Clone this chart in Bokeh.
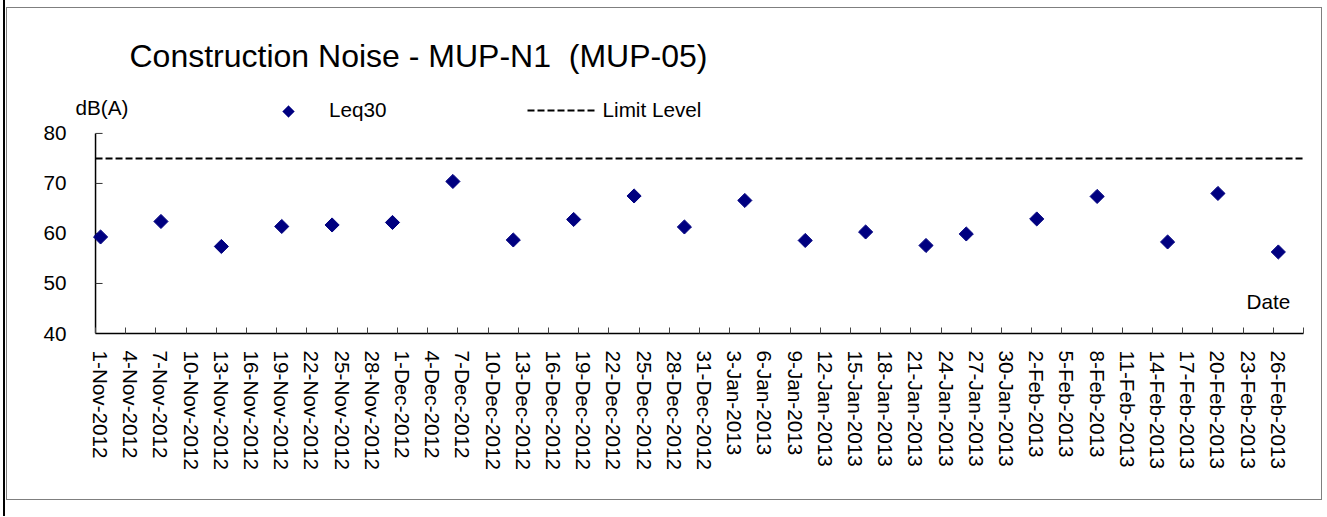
import math
import pandas as pd
from bokeh.plotting import figure
from bokeh.layouts import column
from bokeh.models import (Range1d, FixedTicker, Label, Legend, LegendItem,
                          PolyAnnotation, Whisker, ColumnDataSource)
from bokeh.embed import file_html
from bokeh.resources import INLINE

# ---------------- data ----------------
TITLE = "Construction Noise - MUP-N1  (MUP-05)"
Y_LABEL = "dB(A)"
X_LABEL = "Date"
SERIES_NAME = "Leq30"
LIMIT_NAME = "Limit Level"
LIMIT_LEVEL = 75

dates = ["1-Nov-2012", "7-Nov-2012", "13-Nov-2012", "19-Nov-2012", "24-Nov-2012",
         "30-Nov-2012", "6-Dec-2012", "12-Dec-2012", "18-Dec-2012", "24-Dec-2012",
         "29-Dec-2012", "4-Jan-2013", "10-Jan-2013", "16-Jan-2013", "22-Jan-2013",
         "26-Jan-2013", "2-Feb-2013", "8-Feb-2013", "15-Feb-2013", "20-Feb-2013",
         "26-Feb-2013"]
leq30 = [59.3, 62.4, 57.4, 61.4, 61.7, 62.2, 70.4, 58.7, 62.8, 67.5,
         61.3, 66.6, 58.6, 60.3, 57.6, 59.9, 62.9, 67.4, 58.3, 68.0, 56.3]

tick_labels = ["1-Nov-2012", "4-Nov-2012", "7-Nov-2012", "10-Nov-2012", "13-Nov-2012",
               "16-Nov-2012", "19-Nov-2012", "22-Nov-2012", "25-Nov-2012", "28-Nov-2012",
               "1-Dec-2012", "4-Dec-2012", "7-Dec-2012", "10-Dec-2012", "13-Dec-2012",
               "16-Dec-2012", "19-Dec-2012", "22-Dec-2012", "25-Dec-2012", "28-Dec-2012",
               "31-Dec-2012", "3-Jan-2013", "6-Jan-2013", "9-Jan-2013", "12-Jan-2013",
               "15-Jan-2013", "18-Jan-2013", "21-Jan-2013", "24-Jan-2013", "27-Jan-2013",
               "30-Jan-2013", "2-Feb-2013", "5-Feb-2013", "8-Feb-2013", "11-Feb-2013",
               "14-Feb-2013", "17-Feb-2013", "20-Feb-2013", "23-Feb-2013", "26-Feb-2013"]
X_START = "1-Nov-2012"
X_END = "1-Mar-2013"
y_ticks = [40, 50, 60, 70, 80]

# ---------------- helpers ----------------
FMT = "%d-%b-%Y"
t0 = pd.to_datetime(X_START, format=FMT)


def day_index(s):
    return (pd.to_datetime(s, format=FMT) - t0).days


DAY_CENTER = 0.5          # marks and labels sit in the middle of their day
x_end = day_index(X_END)
tick_days = [day_index(s) for s in tick_labels]
x_pts = [day_index(s) + DAY_CENTER for s in dates]

FONT = "Liberation Sans"
FS = "20.7px"
PX_PER_DAY = 10.05
PX_PER_DB = 4.97
LEFT_PAD_PX = 22                     # frame room left of the date axis start
FRAME_W = LEFT_PAD_PX + 1206
FRAME_H = 313
TICK_LEN_PX = 7
x_start = -LEFT_PAD_PX / PX_PER_DAY
y_top = y_ticks[0] + FRAME_H / PX_PER_DB

p = figure(frame_width=FRAME_W, frame_height=FRAME_H,
           x_range=Range1d(x_start, x_end), y_range=Range1d(y_ticks[0], y_top),
           output_backend="svg", toolbar_location=None,
           min_border_left=66, min_border_right=20, min_border_top=10,
           min_border_bottom=168,
           background_fill_color="white", border_fill_color="white",
           styles={"border": "1px solid #7f7f7f"})
p.outline_line_color = None
p.xgrid.visible = False
p.ygrid.visible = False

# y axis: labels only (its line and inward ticks are drawn at the first day below)
ya = p.yaxis[0]
ya.ticker = FixedTicker(ticks=y_ticks)
ya.axis_line_color = None
ya.major_tick_line_color = None
ya.minor_tick_line_color = None
ya.major_tick_in = 0
ya.major_tick_out = 0
ya.minor_tick_in = 0
ya.minor_tick_out = 0
ya.major_label_standoff = 7
ya.major_label_text_font = FONT
ya.major_label_text_font_size = FS
ya.major_label_text_color = "black"

axis_src = ColumnDataSource(dict(base=[0], lower=[y_ticks[0]], upper=[y_ticks[-1]]))
p.add_layout(Whisker(source=axis_src, base="base", lower="lower", upper="upper",
                     dimension="height", line_color="black", line_width=1.5,
                     lower_head=None, upper_head=None))
tick_src = ColumnDataSource(dict(base=y_ticks, lower=[0] * len(y_ticks),
                                 upper=[TICK_LEN_PX / PX_PER_DAY] * len(y_ticks)))
p.add_layout(Whisker(source=tick_src, base="base", lower="lower", upper="upper",
                     dimension="width", line_color="#333333", line_width=1,
                     lower_head=None, upper_head=None))

# x axis: line, inward tick marks (minor) and date labels (major, mid-day)
xa = p.xaxis[0]
xa.bounds = (0, x_end)
xa.ticker = FixedTicker(ticks=[d + DAY_CENTER for d in tick_days],
                        minor_ticks=tick_days + [x_end])
xa.major_label_overrides = {d + DAY_CENTER: s for d, s in zip(tick_days, tick_labels)}
xa.axis_line_color = "black"
xa.axis_line_width = 1.5
xa.major_tick_line_color = None
xa.major_tick_in = 0
xa.major_tick_out = 0
xa.minor_tick_line_color = "#444444"
xa.minor_tick_in = 6
xa.minor_tick_out = 0
xa.major_label_orientation = "vertical"
xa.major_label_standoff = 17
xa.major_label_text_font = FONT
xa.major_label_text_font_size = FS
xa.major_label_text_color = "black"

# limit level
limit = p.line(x=[0, x_end], y=[LIMIT_LEVEL, LIMIT_LEVEL], line_color="black",
               line_width=2, line_dash="7 3")

# measurements
NAVY = "#000080"
pts = p.scatter(x=x_pts, y=leq30, marker="square", angle=math.pi / 4, size=10,
                fill_color=NAVY, line_color=NAVY)

# legend
LEG_X, LEG_BOTTOM = 180, 211
GLYPH_W = 70
legend = Legend(items=[LegendItem(label=SERIES_NAME, renderers=[pts]),
                       LegendItem(label=LIMIT_NAME, renderers=[limit])],
                orientation="horizontal", location=(LEG_X, LEG_BOTTOM),
                glyph_width=GLYPH_W, glyph_height=10, label_standoff=6, spacing=140,
                padding=0, margin=0, border_line_color=None, background_fill_alpha=0,
                label_text_font=FONT, label_text_font_size=FS, label_height=20,
                label_text_color="black")
p.add_layout(legend)

# diamond legend key (drawn over the legend's own small key)
KEY_CX, KEY_CY, KEY_R = LEG_X + GLYPH_W / 2, 222, 6
p.add_layout(PolyAnnotation(xs=[KEY_CX, KEY_CX + KEY_R, KEY_CX, KEY_CX - KEY_R],
                            ys=[KEY_CY + KEY_R, KEY_CY, KEY_CY - KEY_R, KEY_CY],
                            xs_units="screen", ys_units="screen",
                            fill_color=NAVY, fill_alpha=1, line_color=NAVY, line_width=1))

# texts
shown_title = TITLE.replace("  ", " \u00a0")
p.add_layout(Label(x=56, y=277.3, x_units="screen", y_units="screen", text=shown_title,
                   text_font=FONT, text_font_size="32px", text_color="black",
                   text_baseline="alphabetic", text_align="left"))
p.add_layout(Label(x=2, y=226.4, x_units="screen", y_units="screen", text=Y_LABEL,
                   text_font=FONT, text_font_size=FS, text_color="black",
                   text_baseline="alphabetic", text_align="left"))
p.add_layout(Label(x=1173, y=31.9, x_units="screen", y_units="screen", text=X_LABEL,
                   text_font=FONT, text_font_size=FS, text_color="black",
                   text_baseline="alphabetic", text_align="left"))

page = column(p, styles={"margin-left": "3px", "border-left": "2.5px solid #000000",
                         "padding-left": "1px", "padding-top": "7px",
                         "padding-bottom": "16px"})

open("out.html", "w").write(file_html(page, INLINE))
